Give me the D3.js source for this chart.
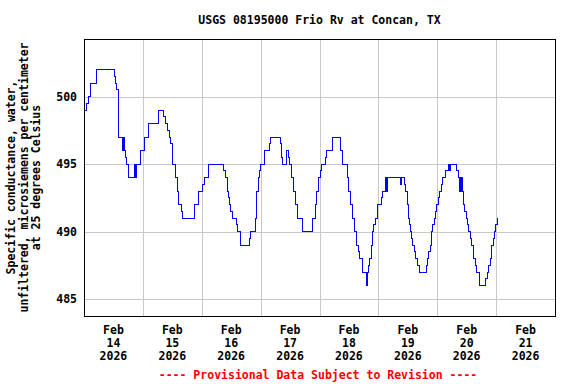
<!DOCTYPE html>
<meta charset="utf-8">

<!-- Load d3.js -->
<script src="https://d3js.org/d3.v7.min.js"></script>

<style>
  body { margin: 0; background: #fff; }
  text { font-family: "DejaVu Sans Mono", monospace; font-weight: bold; font-size: 11.5px; }
</style>

<!-- Create a div where the graph will take place -->
<div id="my_dataviz"></div>

<script>

// step points: hours after Feb 14 2026 00:00 and the value from then on
var hours = [0, 1.16, 1.70, 2.79, 5.24, 12.31, 12.86, 13.40, 13.95, 14.22, 15.85, 16.20, 16.67, 16.94, 17.48, 18.30,
  20.75, 20.95, 21.29, 22.93, 24.83, 26.46, 30.54, 32.45, 33.26, 34.08, 34.90, 35.44, 35.99, 36.26, 37.35, 38.16,
  38.71, 39.80, 40.34, 44.97, 45.24, 46.60, 48.23, 49.05, 50.68, 56.67, 57.48, 58.30, 58.71, 59.25, 59.80, 60.34,
  62.24, 62.52, 63.88, 67.41, 67.96, 69.86, 70.13, 70.41, 70.95, 71.50, 72.04, 73.67, 75.58, 75.85, 79.93, 80.48,
  80.75, 82.38, 83.20, 83.74, 84.56, 85.37, 86.19, 87.01, 88.91, 92.99, 94.35, 94.90, 95.44, 96.26, 96.80, 98.44,
  98.98, 101.15, 104.42, 105.51, 107.42, 107.96, 108.50, 109.32, 110.41, 111.08, 111.90, 112.45, 113.54, 115.17,
  115.44, 115.99, 116.53, 117.07, 117.62, 118.16, 118.70, 119.80, 121.15, 121.70, 123.06, 123.30, 123.60, 129.05,
  129.59, 130.68, 131.22, 131.77, 132.31, 132.86, 133.13, 133.67, 133.95, 134.76, 135.03, 136.12, 136.67, 139.45,
  140.08, 140.61, 141.14, 141.71, 142.24, 142.78, 143.35, 143.88, 144.41, 144.98, 145.80, 146.33, 147.43, 148.49,
  149.00, 149.30, 152.04, 152.57, 153.00, 153.20, 153.60, 153.80, 154.20, 154.78, 155.31, 155.84, 156.41, 156.94,
  157.47, 158.04, 158.86, 159.39, 160.20, 161.02, 163.76, 164.29, 164.82, 165.63, 166.20, 166.73, 167.27, 167.84,
  168.37, 168.90]
var conductance = [499, 499.5, 500, 501, 502, 501.5, 501, 500.5, 499, 497, 496, 497, 496, 495.5, 495, 494,
  495, 494, 495, 496, 497, 498, 499, 498.5, 498, 497.5, 497, 496.5, 496, 495, 494, 493,
  492, 491.5, 491, 491.5, 492, 493, 493.5, 494, 495, 494.5, 494, 493, 492.5, 492, 491.5, 491,
  490.5, 490, 489, 489.5, 490, 491, 492, 493, 494, 494.5, 495, 496, 496.5, 497, 496.5, 495.5,
  495, 496, 495.5, 495, 494, 493, 492, 491, 490, 491, 492, 493, 494, 494.5, 495, 495.5,
  496, 497, 496, 495, 494, 493, 492, 491, 490, 489, 488.5, 488, 487, 486,
  487, 487.5, 488, 489, 490, 490.5, 491, 492, 492.5, 493, 494, 493, 494, 493.5,
  494, 493.5, 493, 492, 491, 490.5, 490, 489.5, 489, 488.5, 488, 487.5, 487, 487.5,
  488, 488.5, 489, 490, 490.5, 491, 491.5, 492, 492.5, 493, 493.5, 494, 494.5, 495,
  494.5, 495, 494.5, 494, 493, 494, 493, 494, 493, 492, 491.5, 491, 490.5, 490,
  489.5, 489, 488, 487.5, 487, 486, 486.5, 487, 487.5, 488, 489, 489.5, 490, 490.5,
  491, 491]

// axis ticks
var yTicks = [485, 490, 495, 500]
var tickDays = ["14", "15", "16", "17", "18", "19", "20", "21"]
var tickMonth = "Feb"
var tickYear = "2026"

var title = "USGS 08195000 Frio Rv at Concan, TX"
var yLabel = ["Specific conductance, water,", "unfiltered, microsiemens per centimeter", "at 25 degrees Celsius"]
var footer = "---- Provisional Data Subject to Revision ----"

// dimensions of the page and the plot frame
var width = 576,
    height = 384,
    plotLeft = 84, plotRight = 555, plotTop = 39, plotBottom = 316

var svg = d3.select("#my_dataviz")
  .append("svg")
  .attr("width", width)
  .attr("height", height)

var start = new Date(Date.UTC(2026, 1, 14))
var end = new Date(Date.UTC(2026, 1, 22))

var x = d3.scaleUtc()
  .domain([start, end])
  .range([plotLeft, plotRight])

var y = d3.scaleLinear()
  .domain([483.76, 504.27])
  .range([plotBottom, plotTop])

var data = hours.map(function(h, i) {
  return { date: new Date(start.getTime() + h * 3600000), value: conductance[i] }
})

// grid lines
var dayTicks = tickDays.map(function(d) { return new Date(Date.UTC(2026, 1, +d)) })

svg.append("g")
  .selectAll("line")
  .data(dayTicks.slice(1))
  .enter()
  .append("line")
  .attr("x1", function(d) { return Math.round(x(d)) + 0.5 })
  .attr("x2", function(d) { return Math.round(x(d)) + 0.5 })
  .attr("y1", plotTop)
  .attr("y2", plotBottom)
  .attr("stroke", "#c8c8c8")

svg.append("g")
  .selectAll("line")
  .data(yTicks)
  .enter()
  .append("line")
  .attr("x1", plotLeft)
  .attr("x2", plotRight)
  .attr("y1", function(d) { return Math.round(y(d)) + 0.5 })
  .attr("y2", function(d) { return Math.round(y(d)) + 0.5 })
  .attr("stroke", "#c8c8c8")

// the data line
svg.append("path")
  .datum(data)
  .attr("fill", "none")
  .attr("stroke", "#0000ff")
  .attr("stroke-width", 1)
  .attr("shape-rendering", "crispEdges")
  .attr("d", d3.line()
    .x(function(d) { return x(d.date) })
    .y(function(d) { return y(d.value) })
    .curve(d3.curveStepAfter)
  )

// frame
svg.append("rect")
  .attr("x", plotLeft + 0.5)
  .attr("y", plotTop + 0.5)
  .attr("width", plotRight - plotLeft)
  .attr("height", plotBottom - plotTop)
  .attr("fill", "none")
  .attr("stroke", "#000")

// y tick labels
svg.append("g")
  .selectAll("text")
  .data(yTicks)
  .enter()
  .append("text")
  .attr("x", 77)
  .attr("y", function(d) { return y(d) + 4 })
  .attr("text-anchor", "end")
  .text(function(d) { return d })

// x tick labels, at noon of each day
var xlab = svg.append("g")
  .selectAll("text")
  .data(dayTicks)
  .enter()
  .append("text")
  .attr("text-anchor", "middle")
  .attr("transform", function(d) {
    return "translate(" + x(new Date(d.getTime() + 12 * 3600000)) + ",0)"
  })
xlab.append("tspan").attr("x", 0).attr("y", 334).text(tickMonth)
xlab.append("tspan").attr("x", 0).attr("y", 347).text(function(d, i) { return tickDays[i] })
xlab.append("tspan").attr("x", 0).attr("y", 360).text(tickYear)

// title
svg.append("text")
  .attr("x", (plotLeft + plotRight) / 2)
  .attr("y", 24)
  .attr("text-anchor", "middle")
  .text(title)

// y axis label
svg.append("g")
  .selectAll("text")
  .data(yLabel)
  .enter()
  .append("text")
  .attr("text-anchor", "middle")
  .attr("transform", function(d, i) { return "translate(" + (15 + i * 12.5) + "," + ((plotTop + plotBottom) / 2) + ") rotate(-90)" })
  .text(function(d) { return d })

// footer
svg.append("text")
  .attr("x", 318)
  .attr("y", 379)
  .attr("text-anchor", "middle")
  .attr("fill", "#ff0000")
  .text(footer)

</script>
